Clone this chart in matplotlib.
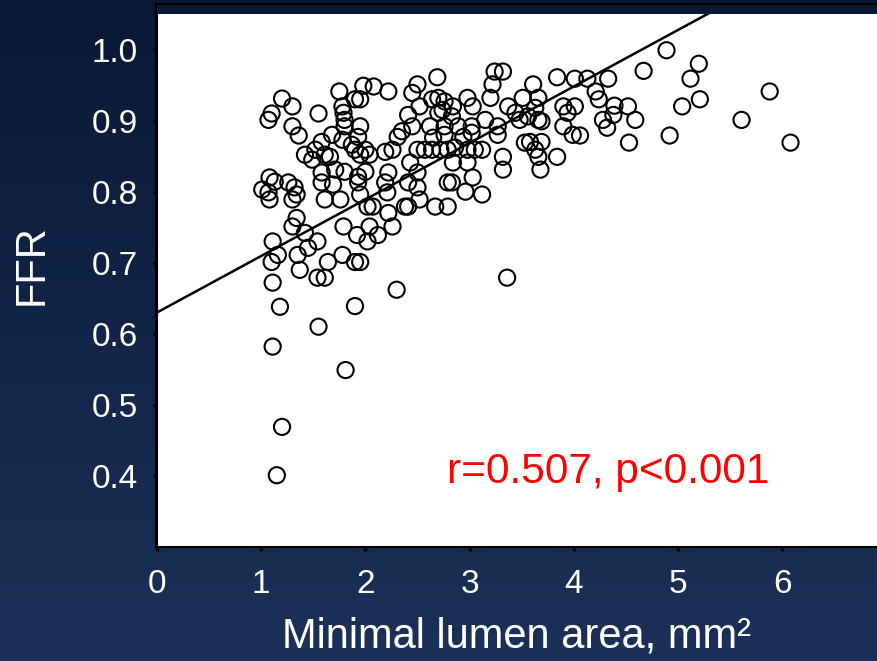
import numpy as np
import matplotlib
matplotlib.use("Agg")
import matplotlib.pyplot as plt
from matplotlib.colors import LinearSegmentedColormap
from matplotlib.lines import Line2D

plt.rcParams['font.family'] = ['Liberation Sans', 'DejaVu Sans']

# minimal lumen area (mm^2) and FFR for each lesion
mla = [
    1.20, 1.30, 1.10, 1.07, 1.30, 1.36, 1.55, 1.75, 1.98, 2.08, 2.22, 1.90, 1.95, 1.78,
    1.79, 1.80, 1.80, 1.95, 1.68, 1.58, 1.78, 1.93, 1.87, 1.42, 1.52, 1.61, 1.66, 1.49,
    1.90, 1.95, 2.00, 2.04, 2.19, 2.26, 2.35, 2.31, 2.45, 2.41, 2.45, 2.22, 2.19, 2.00,
    1.93, 1.80, 1.71, 1.58, 1.58, 1.69, 1.93, 1.08, 1.13, 1.26, 1.32, 1.01, 1.07, 1.34,
    2.69, 3.24, 3.32, 3.22, 3.20, 3.61, 3.84, 3.66, 3.51, 2.50, 2.98, 2.70, 2.64, 2.76,
    2.52, 3.03, 2.84, 3.37, 3.44, 3.48, 3.63, 3.56, 3.66, 3.69, 3.90, 3.94, 3.90, 3.99,
    3.15, 3.27, 3.27, 3.02, 2.89, 2.76, 2.62, 2.70, 2.83, 2.74, 2.65, 2.76, 2.94, 3.02,
    2.50, 2.57, 2.64, 2.72, 2.79, 2.86, 2.98, 3.05, 3.12, 3.32, 3.32, 3.53, 3.58, 3.63,
    3.69, 3.66, 3.84, 3.68, 2.84, 2.98, 3.03, 2.79, 2.83, 2.50, 2.50, 2.43, 2.96, 3.12,
    2.41, 4.89, 5.20, 5.12, 4.67, 4.01, 4.13, 4.33, 4.21, 4.24, 4.39, 4.52, 4.01, 4.38,
    4.28, 4.59, 4.32, 5.21, 5.04, 5.88, 5.61, 4.92, 4.53, 6.08, 4.06, 1.08, 1.30, 1.61,
    1.76, 1.95, 2.02, 2.07, 2.21, 2.38, 2.22, 2.26, 2.12, 2.04, 2.02, 1.92, 1.79, 1.34,
    1.30, 1.42, 1.54, 1.45, 1.11, 1.16, 1.10, 1.35, 1.37, 1.64, 1.78, 1.90, 1.95, 1.54,
    1.61, 1.11, 2.30, 1.18, 1.90, 1.55, 1.11, 1.81, 1.20, 1.15, 3.36, 2.41, 2.52, 2.67,
    2.79,
]
ffr = [
    0.931, 0.920, 0.910, 0.901, 0.892, 0.879, 0.910, 0.941, 0.949, 0.948, 0.941, 0.930, 0.930, 0.920,
    0.911, 0.901, 0.892, 0.892, 0.880, 0.870, 0.873, 0.877, 0.866, 0.852, 0.859, 0.852, 0.849, 0.845,
    0.859, 0.852, 0.859, 0.852, 0.856, 0.859, 0.885, 0.877, 0.892, 0.908, 0.939, 0.827, 0.813, 0.828,
    0.821, 0.828, 0.831, 0.827, 0.813, 0.810, 0.813, 0.820, 0.814, 0.813, 0.806, 0.803, 0.799, 0.796,
    0.961, 0.969, 0.969, 0.951, 0.932, 0.951, 0.961, 0.932, 0.932, 0.951, 0.932, 0.932, 0.930, 0.927,
    0.920, 0.920, 0.920, 0.920, 0.911, 0.901, 0.918, 0.906, 0.901, 0.899, 0.920, 0.911, 0.892, 0.880,
    0.901, 0.892, 0.880, 0.892, 0.892, 0.892, 0.892, 0.911, 0.906, 0.915, 0.876, 0.880, 0.877, 0.883,
    0.859, 0.859, 0.859, 0.859, 0.859, 0.862, 0.859, 0.859, 0.859, 0.849, 0.831, 0.869, 0.870, 0.859,
    0.870, 0.849, 0.849, 0.831, 0.841, 0.841, 0.820, 0.813, 0.813, 0.827, 0.806, 0.841, 0.800, 0.796,
    0.813, 0.999, 0.980, 0.959, 0.970, 0.959, 0.959, 0.959, 0.941, 0.930, 0.921, 0.920, 0.920, 0.908,
    0.901, 0.901, 0.890, 0.930, 0.920, 0.941, 0.901, 0.879, 0.869, 0.869, 0.879, 0.789, 0.789, 0.789,
    0.789, 0.796, 0.779, 0.779, 0.799, 0.779, 0.770, 0.751, 0.739, 0.751, 0.730, 0.739, 0.751, 0.763,
    0.751, 0.742, 0.730, 0.721, 0.730, 0.711, 0.701, 0.711, 0.690, 0.701, 0.711, 0.701, 0.701, 0.679,
    0.679, 0.672, 0.662, 0.638, 0.639, 0.610, 0.582, 0.549, 0.469, 0.401, 0.679, 0.779, 0.789, 0.779,
    0.779,
]

# regression line FFR = a + b * MLA
fit_intercept = 0.630
fit_slope = 0.0795

x_ticks = [0, 1, 2, 3, 4, 5, 6]
y_ticks = [0.4, 0.5, 0.6, 0.7, 0.8, 0.9, 1.0]
stat_text = "r=0.507, p<0.001"

fig = plt.figure(figsize=(8.77, 6.61), dpi=100)

# navy gradient background
bg = fig.add_axes([0, 0, 1, 1], zorder=0)
navy = LinearSegmentedColormap.from_list("navy", ["#091836", "#1c3158"])
bg.imshow(np.linspace(0, 1, 256).reshape(-1, 1), aspect="auto", cmap=navy,
          extent=[0, 1, 0, 1], origin="upper")
bg.axis("off")

ax = fig.add_axes([157 / 877, 1 - 547 / 661, 1 - 157 / 877, (547 - 14) / 661], zorder=1)
ax.set_facecolor("white")

ax.scatter(mla, ffr, s=135, facecolors="none", edgecolors="black", linewidths=1.5, zorder=3)

xs = np.array([0, 7.0])
ax.plot(xs, fit_intercept + fit_slope * xs, color="black", lw=1.8, zorder=4)

ax.text(2.78, 0.405, stat_text, color="#ff0000", fontsize=30.5, va="center", ha="left")

ax.set_xlim(0, 6.91)
ax.set_ylim(0.3, 1.05)
ax.set_xticks(x_ticks)
ax.set_yticks(y_ticks)
ax.set_yticklabels([f"{v:.1f}" for v in y_ticks])

for side in ("top", "right"):
    ax.spines[side].set_visible(False)
for side in ("left", "bottom"):
    ax.spines[side].set_color("black")
    ax.spines[side].set_linewidth(1.5)

ax.tick_params(axis="both", colors="black", labelcolor="white", labelsize=24,
               direction="out", length=3, width=2.5)
ax.tick_params(axis="x", pad=13)
ax.tick_params(axis="y", pad=11)

ax.set_xlabel("Minimal lumen area, mm²", color="white", fontsize=30, labelpad=12)
ax.set_ylabel("FFR", color="white", fontsize=30)
ax.yaxis.set_label_coords(-0.147, 0.529)

# thin frame above the plotting area
fig.add_artist(Line2D([156 / 877, 1], [1 - 4 / 661] * 2, color="black", lw=1.5))
fig.add_artist(Line2D([156 / 877] * 2, [1 - 4 / 661, 1 - 547 / 661], color="black", lw=1.5))

fig.savefig("out.png", dpi=100)
